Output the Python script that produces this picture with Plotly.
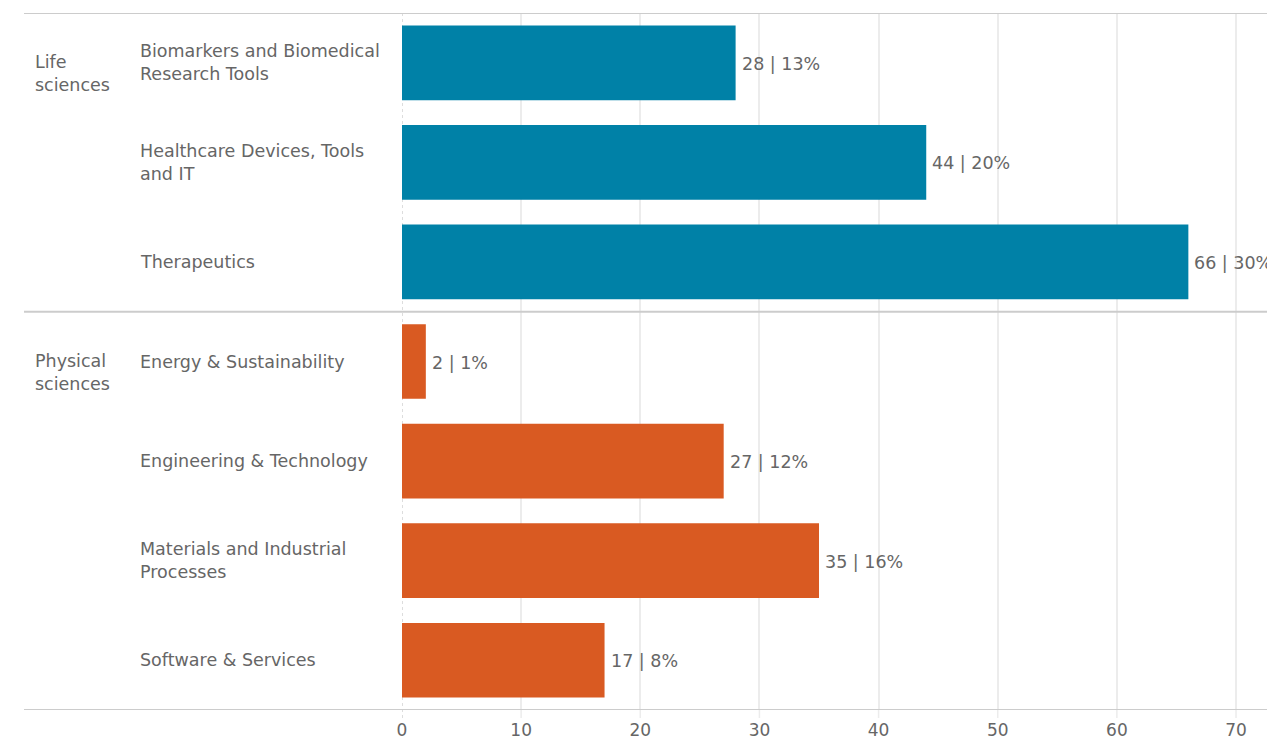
import plotly.graph_objects as go

# Portfolio breakdown by field
groups = ["Life sciences", "Life sciences", "Life sciences",
          "Physical sciences", "Physical sciences", "Physical sciences", "Physical sciences"]
categories = ["Biomarkers and Biomedical<br>Research Tools",
              "Healthcare Devices, Tools<br>and IT",
              "Therapeutics",
              "Energy & Sustainability",
              "Engineering & Technology",
              "Materials and Industrial<br>Processes",
              "Software & Services"]
counts = [28, 44, 66, 2, 27, 35, 17]
shares = [13, 20, 30, 1, 12, 16, 8]
x_ticks = [0, 10, 20, 30, 40, 50, 60, 70]

group_colors = {"Life sciences": "#0081a7", "Physical sciences": "#d95a22"}
group_titles = {"Life sciences": "Life<br>sciences", "Physical sciences": "Physical<br>sciences"}

FONT = "DejaVu Sans, sans-serif"
FSIZE = 17.5
TEXT = "#666666"
W, H = 1267, 742
L, R, T, B = 402, 0, 13, 32
plot_w = W - L - R
plot_h = H - T - B
x_max = 72.6

ids = list(range(len(categories)))

fig = go.Figure()
fig.add_trace(go.Bar(
    y=ids, x=counts, orientation="h", width=0.75,
    marker=dict(color=[group_colors[g] for g in groups], line=dict(width=0)),
    hoverinfo="skip", showlegend=False,
))

ann = []
# value labels at bar ends
for i, (c, s) in enumerate(zip(counts, shares)):
    ann.append(dict(x=c, y=i, xref="x", yref="y", text=f"{c} | {s}%",
                    xanchor="left", yanchor="middle", xshift=4, yshift=-1, showarrow=False,
                    font=dict(family=FONT, size=FSIZE, color=TEXT)))
# category labels
for i, cat in enumerate(categories):
    ann.append(dict(x=(138 - L) / plot_w, y=i, xref="paper", yref="y", text=cat,
                    xanchor="left", yanchor="middle", align="left", showarrow=False,
                    font=dict(family=FONT, size=FSIZE, color=TEXT)))
# group labels, first line level with first row
seen = []
for i, g in enumerate(groups):
    if g in seen:
        continue
    seen.append(g)
    ann.append(dict(x=(33 - L) / plot_w, y=i, xref="paper", yref="y", text=group_titles[g],
                    xanchor="left", yanchor="top", yshift=13, align="left", showarrow=False,
                    font=dict(family=FONT, size=FSIZE, color=TEXT)))

shapes = []
line_x0 = (24 - L) / plot_w
# group separators
bounds = [-0.5]
for i in range(1, len(groups)):
    if groups[i] != groups[i - 1]:
        bounds.append(i - 0.5)
bounds.append(len(groups) - 0.5)
for b in bounds:
    shapes.append(dict(type="line", xref="paper", yref="y", x0=line_x0, x1=1, y0=b, y1=b,
                       line=dict(color="#cccccc", width=2), layer="above"))
# dashed baseline at zero
shapes.append(dict(type="line", xref="x", yref="paper", x0=0, x1=0, y0=-8 / plot_h, y1=1,
                   line=dict(color="#bbbbbb", width=1, dash="dot"), layer="below"))
# gridline stubs below the bottom rule
for t in x_ticks[1:]:
    shapes.append(dict(type="line", xref="x", yref="paper", x0=t, x1=t, y0=-8 / plot_h, y1=0,
                       line=dict(color="#ececec", width=1.5), layer="below"))

fig.update_layout(
    width=W, height=H,
    margin=dict(l=L, r=R, t=T, b=B, pad=0, autoexpand=False),
    paper_bgcolor="white", plot_bgcolor="white",
    bargap=0.25,
    xaxis=dict(range=[0, x_max], tickvals=x_ticks, showgrid=True, gridcolor="#ececec",
               gridwidth=1.5, zeroline=False, showline=False, ticks="outside", ticklen=5,
               tickcolor="rgba(0,0,0,0)", tickwidth=1.5, automargin=False,
               tickfont=dict(family=FONT, size=17, color=TEXT), fixedrange=True),
    yaxis=dict(range=[len(categories) - 0.5, -0.5], showticklabels=False, showgrid=False,
               zeroline=False, showline=False, fixedrange=True, automargin=False),
    annotations=ann, shapes=shapes,
)

fig.write_html("out.html")
